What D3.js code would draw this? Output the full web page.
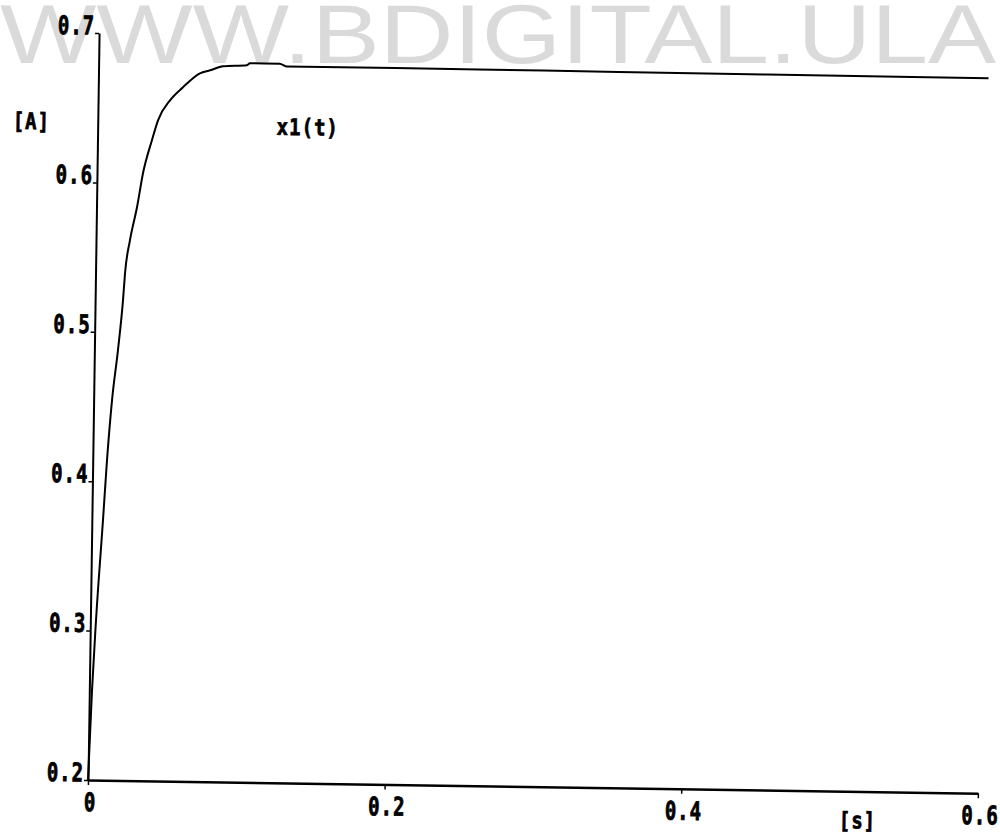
<!DOCTYPE html>
<html>
<head>
<meta charset="utf-8">
<script src="https://cdn.jsdelivr.net/npm/d3@7/dist/d3.min.js"></script>
<style>
  html, body { margin: 0; padding: 0; background: #fff; }
  svg { display: block; }
</style>
</head>
<body>
<svg id="chart" width="1000" height="833"></svg>
<script>
// ---- data ----
const time = [0, 0.0018, 0.0038, 0.0075, 0.0096, 0.0124, 0.0159, 0.0188, 0.0199, 0.0229,
              0.0273, 0.031, 0.0367, 0.0406, 0.0485, 0.0571, 0.0684, 0.0752, 0.0839, 0.100,
              0.102, 0.122, 0.127, 0.2, 0.3, 0.4, 0.5, 0.6];
const current = [0.2, 0.260, 0.307, 0.374, 0.414, 0.4545, 0.488, 0.5215, 0.5396, 0.5617,
                 0.5838, 0.6066, 0.6288, 0.6422, 0.6557, 0.6646, 0.6741, 0.6762, 0.679, 0.680,
                 0.6813, 0.6813, 0.6795, 0.6795, 0.6793, 0.679, 0.6788, 0.6786];
const xTicks = [0, 0.2, 0.4, 0.6];
const xTickLabels = ["0", "0.2", "0.4", "0.6"];
const yTicks = [0.2, 0.3, 0.4, 0.5, 0.6, 0.7];
const yTickLabels = ["0.2", "0.3", "0.4", "0.5", "0.6", "0.7"];
const yUnit = "[A]";
const xUnit = "[s]";
const seriesName = "x1(t)";
const watermark = "WWW.BDIGITAL.ULA";

// ---- layout ----
const svg = d3.select("#chart");
const W = 890, H = 747;
const x = d3.scaleLinear().domain([0, 0.6]).range([0, W]);
const y = d3.scaleLinear().domain([0.2, 0.7]).range([0, -H]);
const mono = "'DejaVu Sans Mono', 'Liberation Mono', monospace";

// watermark (behind)
svg.append("text")
  .attr("x", 0).attr("y", 63)
  .attr("textLength", 996).attr("lengthAdjust", "spacingAndGlyphs")
  .attr("font-family", "'Liberation Sans', Arial, sans-serif")
  .attr("font-size", 84)
  .attr("fill", "#dadada")
  .text(watermark);

const g = svg.append("g").attr("transform", "translate(88,780) rotate(0.85)");

function styleText(sel) {
  sel.attr("font-family", mono).attr("font-weight", "bold").attr("font-size", 19)
    .attr("letter-spacing", 1)
    .attr("fill", "#000").attr("stroke", "#000").attr("stroke-width", 0.6);
}

// y axis
const yAxis = d3.axisLeft(y).tickValues(yTicks).tickSize(4).tickSizeOuter(0)
  .tickFormat((d, i) => yTickLabels[i]);
const ya = g.append("g").call(yAxis);
ya.select(".domain").attr("stroke", "#000").attr("stroke-width", 2);
ya.selectAll(".tick line").attr("stroke", "#000").attr("stroke-width", 1.5);
ya.selectAll(".tick text")
  .attr("x", null).attr("dy", null)
  .attr("transform", "translate(-4,1) scale(1,1.35)")
  .attr("text-anchor", "end")
  .call(styleText);

// x axis
const xAxis = d3.axisBottom(x).tickValues(xTicks).tickSize(5).tickSizeOuter(0)
  .tickFormat((d, i) => xTickLabels[i]);
const xa = g.append("g").call(xAxis);
xa.select(".domain").attr("stroke", "#000").attr("stroke-width", 2.5);
xa.selectAll(".tick line").attr("stroke", "#000").attr("stroke-width", 1.5);
xa.selectAll(".tick text")
  .attr("y", null).attr("dy", null)
  .attr("transform", "translate(2,31) scale(1,1.35)")
  .attr("text-anchor", "middle")
  .call(styleText);

// curve
const pts = time.map((t, i) => [t, current[i]]);
g.append("path")
  .datum(pts)
  .attr("fill", "none")
  .attr("stroke", "#000")
  .attr("stroke-width", 2)
  .attr("stroke-linejoin", "round")
  .attr("d", d3.line().curve(d3.curveMonotoneX).x(d => x(d[0])).y(d => y(d[1])));

// labels
function label(txt, tx, ty, anchor) {
  g.append("text")
    .attr("transform", `translate(${tx},${ty}) scale(1,1.2)`)
    .attr("text-anchor", anchor)
    .call(styleText)
    .text(txt);
}
label(yUnit, -85, -650, "start");
label(seriesName, 179, -648, "start");
label(xUnit, 770, 37, "middle");
</script>
</body>
</html>
